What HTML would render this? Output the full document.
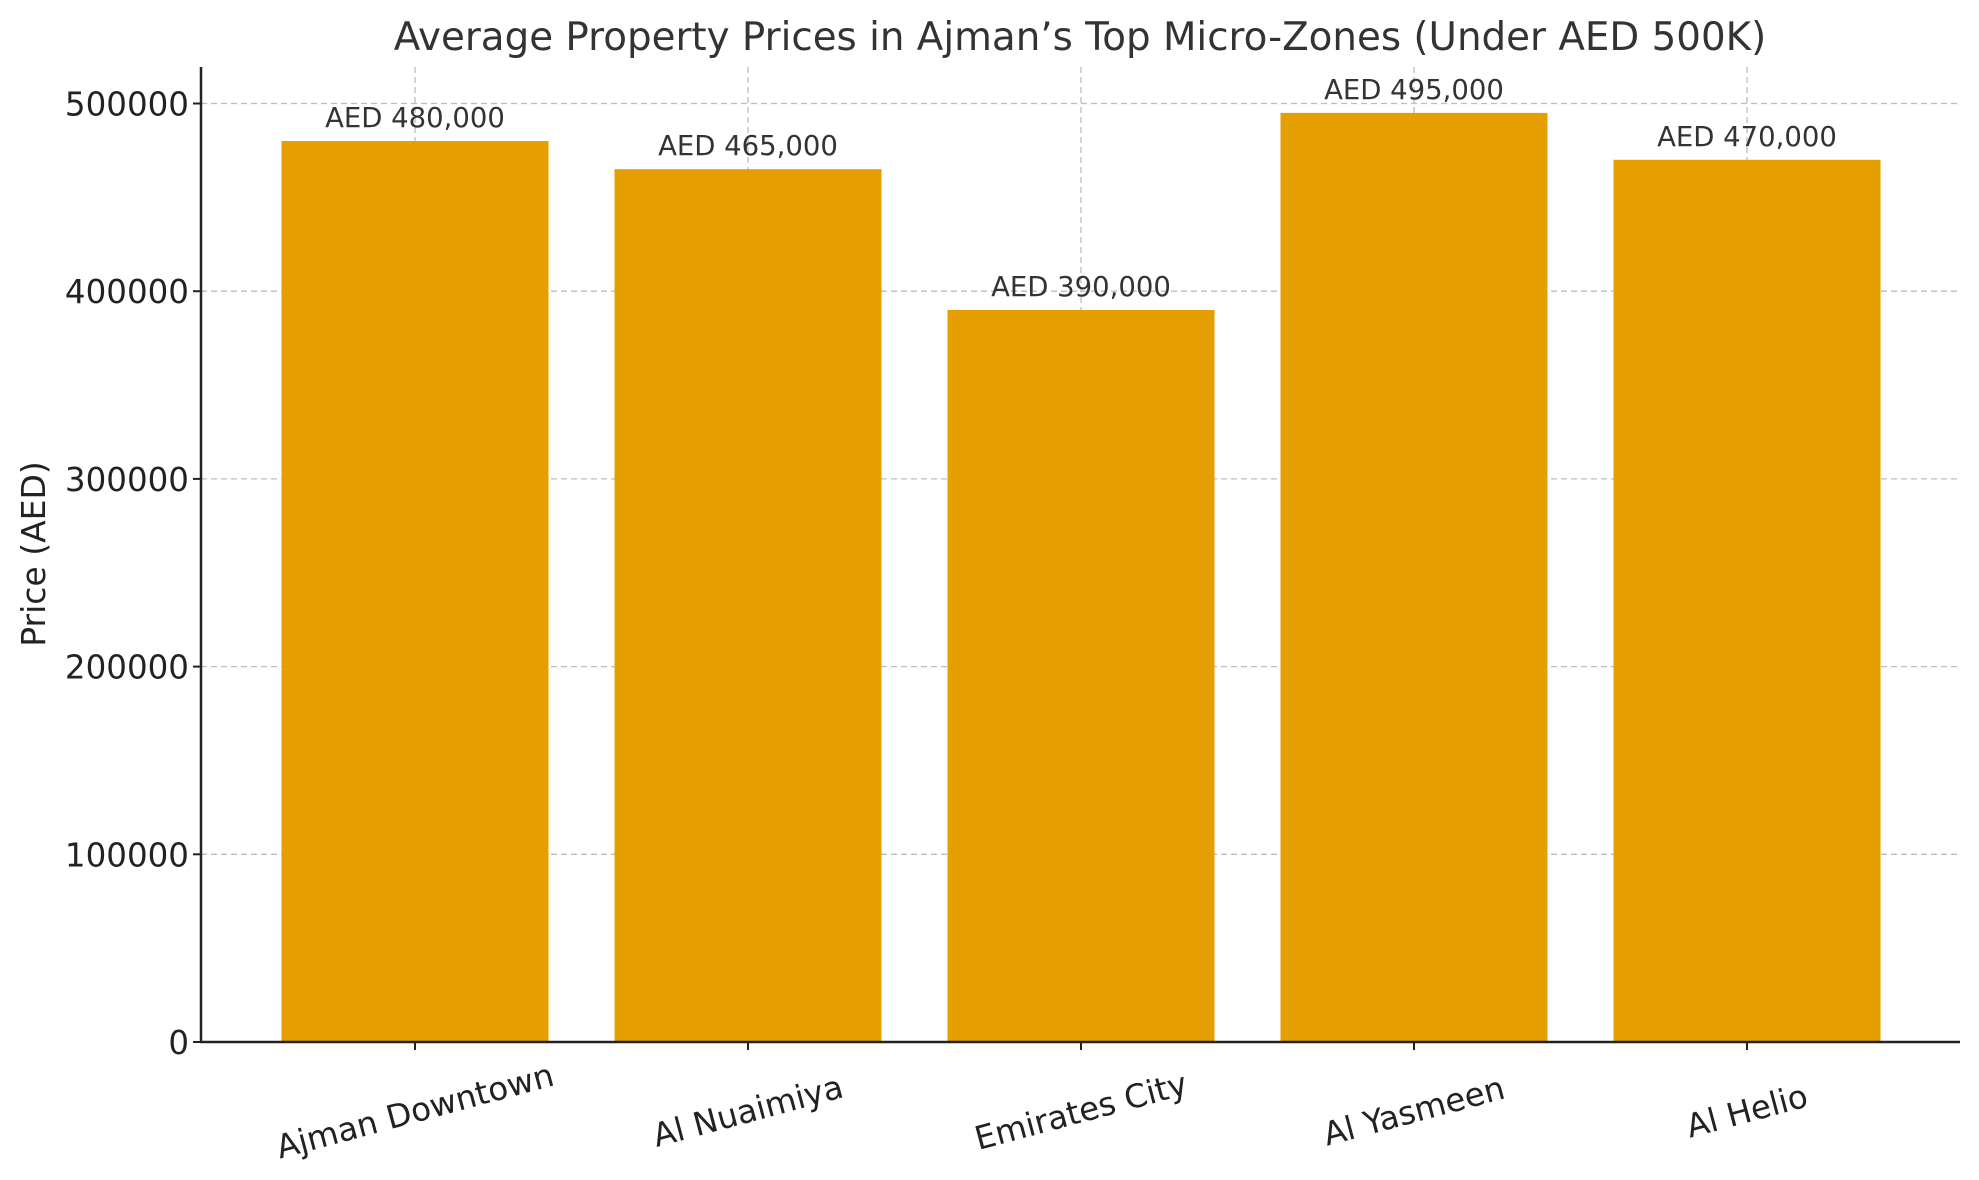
<!DOCTYPE html>
<html><head><meta charset="utf-8"><style>
html,body{margin:0;padding:0;background:#fff;}
svg{display:block;font-family:"DejaVu Sans","Liberation Sans",sans-serif;}
</style></head><body>
<svg id="chart" width="1979" height="1180" viewBox="0 0 1979 1180" xmlns="http://www.w3.org/2000/svg">
<text x="1080" y="50" font-size="38.8" fill="#333" text-anchor="middle">Average Property Prices in Ajman’s Top Micro-Zones (Under AED 500K)</text>
<text transform="translate(45,554) rotate(-90)" font-size="33" fill="#222" text-anchor="middle">Price (AED)</text>
<g id="grid"></g><g id="bars"></g><g id="labels"></g><g id="axes"></g>
</svg>
<script>
const categories = ["Ajman Downtown","Al Nuaimiya","Emirates City","Al Yasmeen","Al Helio"];
const prices = [480000,465000,390000,495000,470000];
const valueLabels = ["AED 480,000","AED 465,000","AED 390,000","AED 495,000","AED 470,000"];
const yTicks = [0,100000,200000,300000,400000,500000];
const yTickLabels = ["0","100000","200000","300000","400000","500000"];

const NS="http://www.w3.org/2000/svg";
const L=201,R=1960,T=67,B=1042;
const x0=415,step=333,bw=267;
function xs(i){return x0+i*step;}
function ys(v){return B-v*(938.5/500000);}
function mk(tag,attrs,parent,text){const e=document.createElementNS(NS,tag);for(const k in attrs)e.setAttribute(k,attrs[k]);if(text!==undefined)e.textContent=text;parent.appendChild(e);return e;}
const grid=document.getElementById('grid'),bars=document.getElementById('bars'),labels=document.getElementById('labels'),axes=document.getElementById('axes');
yTicks.forEach((v,i)=>{
  const y=ys(v);
  if(v>0){const g=mk('line',{x1:L,x2:R,y1:y,y2:y,stroke:'#bdbdbd','stroke-width':1.3,'stroke-dasharray':'6,4'},grid);
  
  }
  const t=mk('line',{x1:L-8,x2:L,y1:y,y2:y,stroke:'#222','stroke-width':2},axes);
  
  
  const tl=mk('text',{x:L-12,y:y+12,'font-size':32.5,fill:'#222','text-anchor':'end'},axes,yTickLabels[i]);
  
  
});
categories.forEach((c,i)=>{
  const x=xs(i);
  const g=mk('line',{x1:x,x2:x,y1:T,y2:B,stroke:'#bdbdbd','stroke-width':1.3,'stroke-dasharray':'6,4'},grid);
  
  
  const b=mk('rect',{x:x-bw/2,y:ys(prices[i]),width:bw,height:B-ys(prices[i]),fill:'#e69f00'},bars);
  
  
  const vl=mk('text',{x:x,y:ys(prices[i])-14,'font-size':27.5,fill:'#333','text-anchor':'middle'},labels,valueLabels[i]);
  
  
  const t=mk('line',{x1:x,x2:x,y1:B,y2:B+8,stroke:'#222','stroke-width':2},axes);
  
  
  const xl=mk('text',{transform:'translate('+(x-6)+','+(B+47)+') rotate(-15)','font-size':32.5,fill:'#222','text-anchor':'middle',y:34},axes,c);
  
  
});
const ya=mk('line',{x1:L,x2:L,y1:T,y2:B+1,stroke:'#222','stroke-width':2.5},axes);


const xa=mk('line',{x1:L-1,x2:R,y1:B,y2:B,stroke:'#222','stroke-width':2.5},axes);


</script>
</body></html>
